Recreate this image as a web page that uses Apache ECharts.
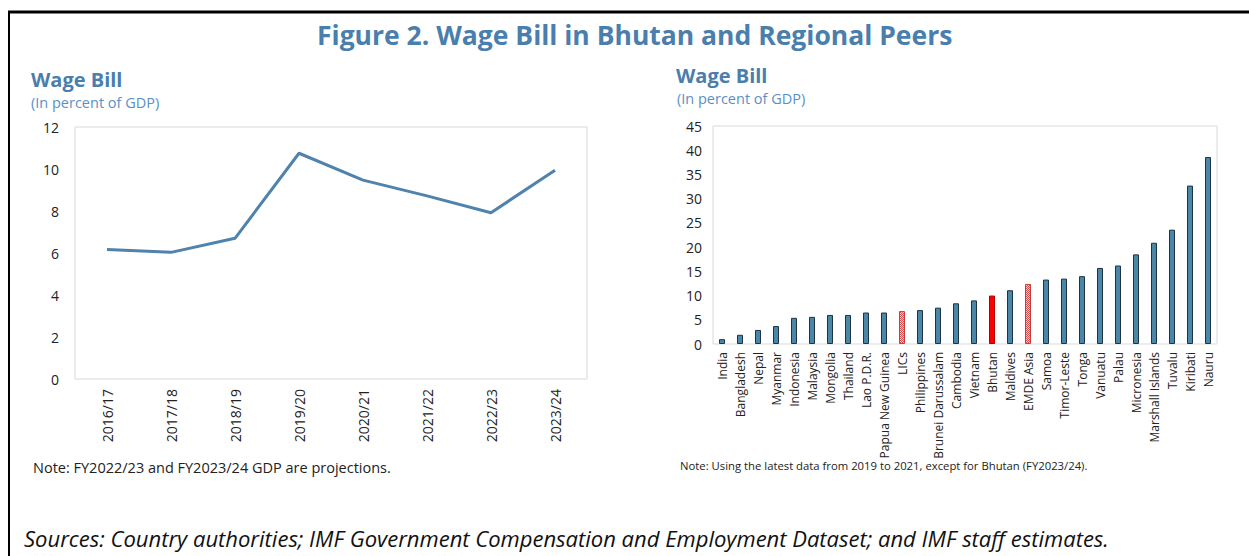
<!DOCTYPE html>
<html>
<head>
<meta charset="utf-8">
<script src="https://cdn.jsdelivr.net/npm/echarts@6/dist/echarts.min.js"></script>
<style>
  html, body { margin: 0; padding: 0; background: #fff; }
  #chart { width: 1249px; height: 556px; }
</style>
</head>
<body>
<div id="chart"></div>
<script>
// left panel: Bhutan wage bill over time
const years = ['2016/17', '2017/18', '2018/19', '2019/20', '2020/21', '2021/22', '2022/23', '2023/24'];
const bhutanWage = [6.17, 6.03, 6.7, 10.75, 9.47, 8.72, 7.92, 9.94];

// right panel: regional peers
const countries = ['India', 'Bangladesh', 'Nepal', 'Myanmar', 'Indonesia', 'Malaysia', 'Mongolia', 'Thailand',
  'Lao P.D.R.', 'Papua New Guinea', 'LICs', 'Philippines', 'Brunei Darussalam', 'Cambodia', 'Vietnam', 'Bhutan',
  'Maldives', 'EMDE Asia', 'Samoa', 'Timor-Leste', 'Tonga', 'Vanuatu', 'Palau', 'Micronesia', 'Marshall Islands',
  'Tuvalu', 'Kiribati', 'Nauru'];
const peerWage = [1.0, 1.9, 2.9, 3.7, 5.4, 5.6, 6.0, 6.0, 6.5, 6.5, 6.8, 7.0, 7.5, 8.4, 9.0, 10.0,
  11.1, 12.4, 13.3, 13.5, 14.0, 15.7, 16.2, 18.5, 20.9, 23.6, 32.7, 38.6];
const groupNames = ['LICs', 'EMDE Asia'];
const highlightName = 'Bhutan';

const FONT = '"Open Sans", sans-serif';
const BLUE = '#4a7ead';

// small dotted pattern for country-group bars
function dotPattern() {
  const c = document.createElement('canvas');
  c.width = 2; c.height = 2;
  const ctx = c.getContext('2d');
  ctx.fillStyle = '#fbd0d0';
  ctx.fillRect(0, 0, 2, 2);
  ctx.fillStyle = '#e84848';
  ctx.fillRect(0, 0, 1, 1);
  ctx.fillRect(1, 1, 1, 1);
  return c;
}
const pattern = { image: dotPattern(), repeat: 'repeat' };

const barData = peerWage.map((v, i) => {
  const name = countries[i];
  if (name === highlightName) {
    return { value: v, itemStyle: { color: '#ff0000', borderColor: '#b00000' } };
  }
  if (groupNames.includes(name)) {
    return { value: v, itemStyle: { color: pattern, borderColor: '#c04040' } };
  }
  return v;
});

const chart = echarts.init(document.getElementById('chart'), null, { renderer: 'svg' });

const axisLabel = { color: '#222', fontFamily: FONT, fontSize: 14 };

function txt(text, left, top, style) {
  return { text: text, left: left, top: top, padding: 0,
    textStyle: Object.assign({ fontFamily: FONT, fontWeight: 'normal' }, style) };
}

chart.setOption({
  animation: false,
  title: [
    txt('Figure 2. Wage Bill in Bhutan and Regional Peers', 317, 21,
      { color: BLUE, fontWeight: 'bold', fontSize: 26.5 }),
    txt('Wage Bill', 31, 69, { color: BLUE, fontWeight: 'bold', fontSize: 20 }),
    txt('(In percent of GDP)', 31, 95, { color: '#5b8fc7', fontSize: 14.5 }),
    txt('Wage Bill', 676, 65, { color: BLUE, fontWeight: 'bold', fontSize: 20 }),
    txt('(In percent of GDP)', 677, 91, { color: '#5b8fc7', fontSize: 14.5 }),
    txt('Note: FY2022/23 and FY2023/24 GDP are projections.', 33, 460, { color: '#222', fontSize: 14.5 }),
    txt('Note: Using the latest data from 2019 to 2021, except for Bhutan (FY2023/24).', 680, 460,
      { color: '#222', fontSize: 11.3 }),
    txt('Sources: Country authorities; IMF Government Compensation and Employment Dataset; and IMF staff estimates.',
      24, 527, { color: '#111', fontStyle: 'italic', fontSize: 22 })
  ],
  graphic: [
    { type: 'line', shape: { x1: 8, y1: 12, x2: 1249, y2: 12 }, style: { stroke: '#000', lineWidth: 3 } },
    { type: 'line', shape: { x1: 9, y1: 11, x2: 9, y2: 556 }, style: { stroke: '#000', lineWidth: 2 } }
  ],
  grid: [
    { left: 75, top: 127, width: 512, height: 252, show: true, borderColor: '#d9d9d9', borderWidth: 1 },
    { left: 713, top: 126, width: 504, height: 218, show: true, borderColor: '#d9d9d9', borderWidth: 1 }
  ],
  xAxis: [
    { type: 'category', gridIndex: 0, data: years, boundaryGap: true,
      axisLine: { show: false }, axisTick: { show: false },
      axisLabel: Object.assign({}, axisLabel, { rotate: 90, margin: 10, fontSize: 14 }) },
    { type: 'category', gridIndex: 1, data: countries, boundaryGap: true,
      axisLine: { show: false }, axisTick: { show: false },
      axisLabel: Object.assign({}, axisLabel, { rotate: 90, margin: 8, fontSize: 12, interval: 0 }) }
  ],
  yAxis: [
    { type: 'value', gridIndex: 0, min: 0, max: 12, interval: 2,
      axisLine: { show: false }, axisTick: { show: false }, splitLine: { show: false },
      axisLabel: Object.assign({}, axisLabel, { margin: 16 }) },
    { type: 'value', gridIndex: 1, min: 0, max: 45, interval: 5,
      axisLine: { show: false }, axisTick: { show: false }, splitLine: { show: false },
      axisLabel: Object.assign({}, axisLabel, { margin: 11 }) }
  ],
  series: [
    { type: 'line', xAxisIndex: 0, yAxisIndex: 0, data: bhutanWage, symbol: 'none',
      lineStyle: { color: '#4f82ad', width: 3 } },
    { type: 'bar', xAxisIndex: 1, yAxisIndex: 1, data: barData, barWidth: 6,
      itemStyle: { color: '#4a86a8', borderColor: '#1e3442', borderWidth: 1 } }
  ]
});
</script>
</body>
</html>
